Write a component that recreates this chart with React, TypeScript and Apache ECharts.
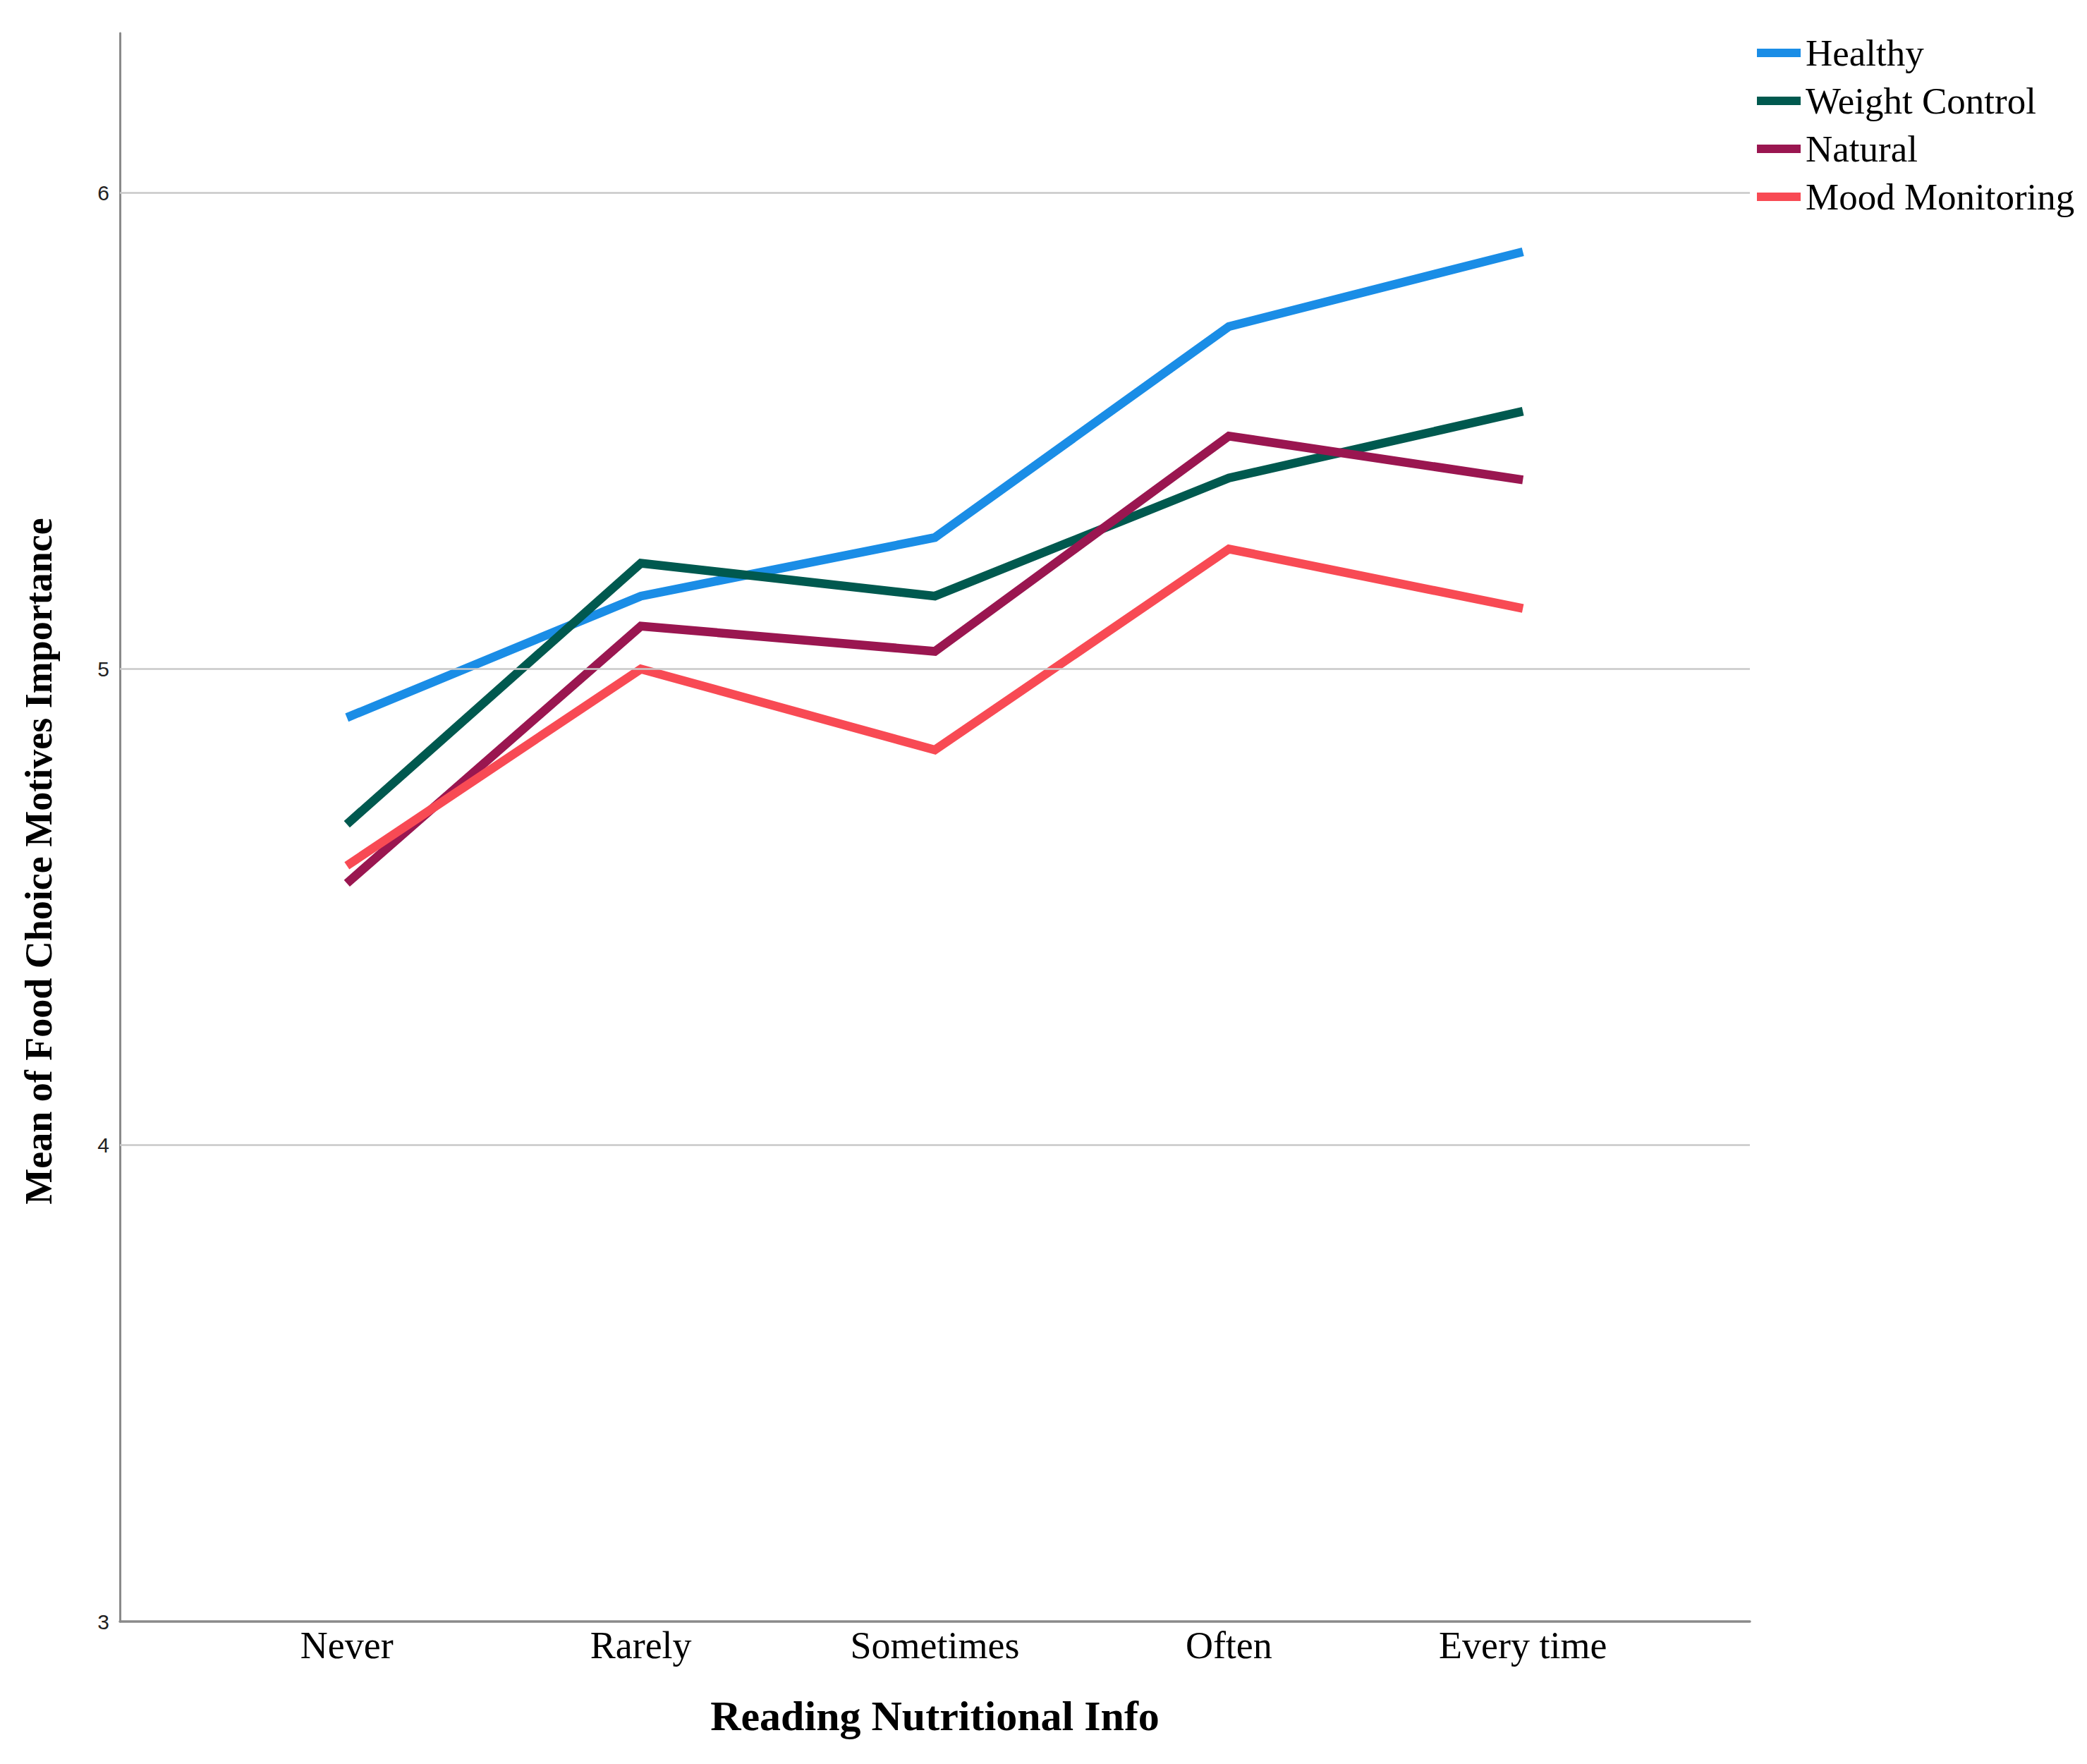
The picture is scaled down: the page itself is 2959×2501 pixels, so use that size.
import React, { useEffect, useRef } from "react";
import * as echarts from "echarts";

const categories = ["Never", "Rarely", "Sometimes", "Often", "Every time"];
const seriesNames = ["Healthy", "Weight Control", "Natural", "Mood Monitoring"];
const healthy = [4.898, 5.153, 5.276, 5.719, 5.876];
const weightControl = [4.674, 5.222, 5.153, 5.401, 5.541];
const natural = [4.55, 5.09, 5.037, 5.489, 5.397];
const moodMonitoring = [4.587, 5.0, 4.83, 5.252, 5.127];
const yTicks = [3, 4, 5, 6];
const gridValues = [4, 5, 6];
const yTitle = "Mean of Food Choice Motives Importance";
const xTitle = "Reading Nutritional Info";

const colors = ["#1a8de6", "#00594f", "#9a1650", "#f84a54"];
const serif = "'Palatino Linotype', 'Book Antiqua', Palatino, 'Liberation Serif', serif";

export default function App() {
  const ref = useRef<HTMLDivElement>(null);
  useEffect(() => {
    if (!ref.current) return;
    const chart = echarts.init(ref.current, null, { renderer: "svg" });
    const values = [healthy, weightControl, natural, moodMonitoring];
    const lineSeries = seriesNames.map((name, i) => ({
      name,
      type: "line",
      data: values[i].map((v, j) => [j, v]),
      showSymbol: false,
      symbol: "none",
      z: 3,
      lineStyle: { color: colors[i], width: 12.5, cap: "butt", join: "miter" },
      itemStyle: { color: colors[i] },
    }));
    chart.setOption({
      animation: false,
      backgroundColor: "#ffffff",
      grid: {
        left: 170,
        top: 47,
        right: 478,
        bottom: 202,
        containLabel: false,
        outerBoundsMode: "none",
      },
      legend: {
        data: seriesNames,
        orient: "vertical",
        left: 2486,
        top: 42,
        itemWidth: 62,
        itemHeight: 12,
        itemGap: 12,
        icon: "rect",
        selectedMode: false,
        textStyle: {
          fontFamily: serif,
          fontSize: 53,
          lineHeight: 56,
          color: "#000",
          padding: [0, 0, 0, 2],
        },
      },
      graphic: [
        {
          type: "text",
          x: 55,
          y: 1221,
          rotation: Math.PI / 2,
          silent: true,
          style: {
            text: yTitle,
            fontFamily: serif,
            fontSize: 54,
            fontWeight: "bold",
            fill: "#000",
            align: "center",
            verticalAlign: "middle",
          },
        },
      ],
      xAxis: {
        type: "value",
        min: -0.772,
        max: 4.772,
        name: xTitle,
        nameLocation: "middle",
        nameGap: 104,
        nameTextStyle: { fontFamily: serif, fontSize: 60, fontWeight: "bold", color: "#000" },
        axisLine: { show: true, onZero: false, lineStyle: { color: "#8a8a8a", width: 3.5 } },
        axisTick: { show: false },
        splitLine: { show: false },
        axisLabel: {
          customValues: [0, 1, 2, 3, 4],
          formatter: (v: number) => categories[Math.round(v)] ?? "",
          fontFamily: serif,
          fontSize: 54,
          color: "#000",
          margin: 7,
        },
      },
      yAxis: {
        type: "value",
        min: 3,
        max: 6.335,
        interval: 1,
        axisLine: { show: true, onZero: false, lineStyle: { color: "#8a8a8a", width: 3 } },
        axisTick: { show: false },
        splitLine: { show: false },
        axisLabel: {
          formatter: (v: number) => (yTicks.includes(v) ? String(v) : ""),
          fontFamily: "'Liberation Sans', Arial, sans-serif",
          fontSize: 30,
          color: "#222",
          margin: 15,
        },
      },
      series: [
        {
          name: "grid",
          type: "line",
          data: [],
          z: 1,
          silent: true,
          markLine: {
            silent: true,
            symbol: "none",
            label: { show: false },
            lineStyle: { color: "#c8c8c8", width: 2.5, type: "solid" },
            emphasis: { disabled: true },
            data: gridValues.map((v) => ({ yAxis: v })),
          },
        },
        ...lineSeries,
      ],
    });
    return () => chart.dispose();
  }, []);
  return (
    <div
      ref={ref}
      style={{ position: "absolute", left: 0, top: 0, width: 2959, height: 2501 }}
    />
  );
}
